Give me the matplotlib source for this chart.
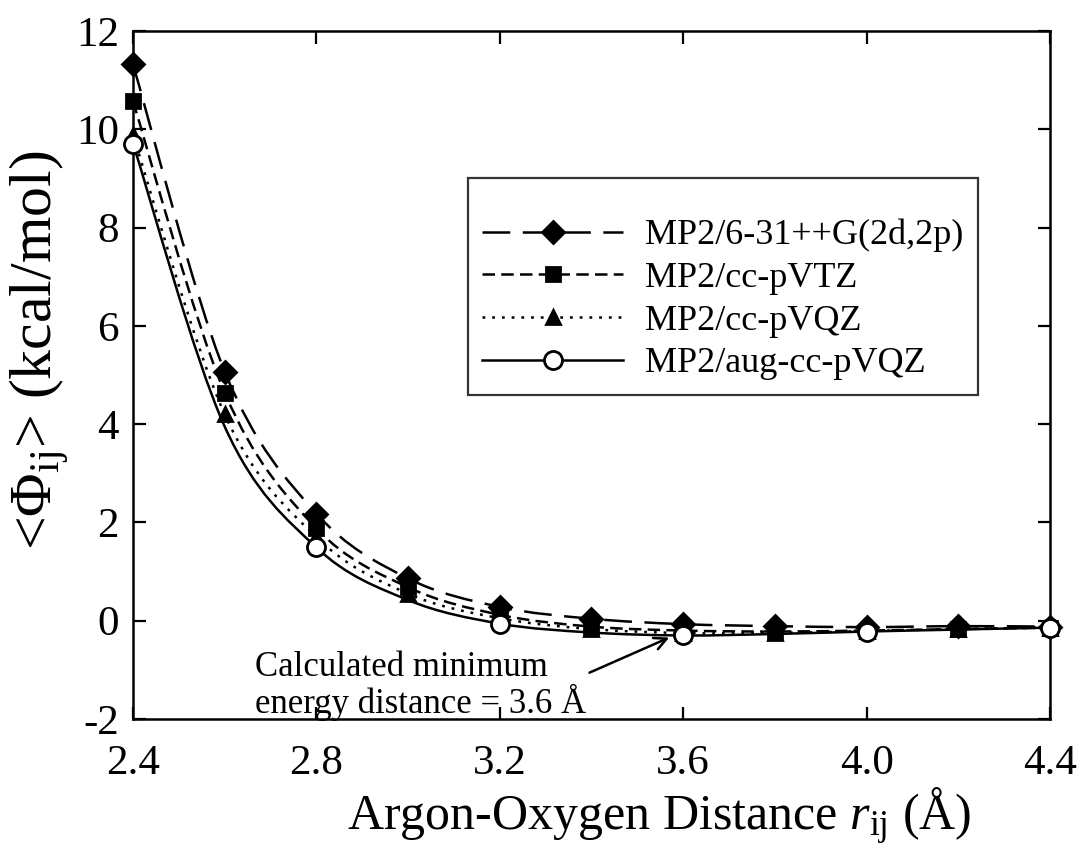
import numpy as np
import matplotlib
matplotlib.use('Agg')
import matplotlib.pyplot as plt
from matplotlib.path import Path
from matplotlib.patches import PathPatch
from matplotlib.lines import Line2D

# values
r = [2.4, 2.6, 2.8, 3.0, 3.2, 3.4, 3.6, 3.8, 4.0, 4.2, 4.4]
mp2_631g = [11.32, 5.07, 2.18, 0.86, 0.28, 0.04, -0.07, -0.11, -0.13, -0.11, -0.12]
mp2_vtz = [10.57, 4.64, 1.88, 0.68, 0.12, -0.12, -0.20, -0.22, -0.20, -0.17, -0.14]
mp2_vqz = [9.88, 4.20, 1.70, 0.55, 0.05, -0.17, -0.25, -0.25, -0.21, -0.17, -0.14]
mp2_aug = [9.71, 3.95, 1.49, 0.42, -0.06, -0.24, -0.30, -0.27, -0.22, -0.18, -0.14]

labels = ['MP2/6-31++G(2d,2p)', 'MP2/cc-pVTZ', 'MP2/cc-pVQZ', 'MP2/aug-cc-pVQZ']
xticks = [2.4, 2.8, 3.2, 3.6, 4.0, 4.4]
yticks = [-2, 0, 2, 4, 6, 8, 10, 12]

plt.rcParams['font.family'] = ['Liberation Serif', 'DejaVu Serif']
plt.rcParams['mathtext.fontset'] = 'custom'
plt.rcParams['mathtext.rm'] = 'Liberation Serif'
plt.rcParams['mathtext.it'] = 'Liberation Serif:italic'
plt.rcParams['axes.unicode_minus'] = False
plt.rcParams['lines.scale_dashes'] = False


def smooth_path(xs, ys):
    # Catmull-Rom style bezier through the data points
    pts = np.column_stack([xs, ys])
    n = len(pts)
    verts = [pts[0]]
    codes = [Path.MOVETO]
    for i in range(n - 1):
        p0 = pts[max(i - 1, 0)]
        p1 = pts[i]
        p2 = pts[i + 1]
        p3 = pts[min(i + 2, n - 1)]
        verts += [p1 + (p2 - p0) / 6, p2 - (p3 - p1) / 6, p2]
        codes += [Path.CURVE4] * 3
    return Path(verts, codes)


fig = plt.figure(figsize=(10.78, 8.49), dpi=100)
ax = fig.add_axes([133 / 1078, 1 - 719 / 849, 917 / 1078, 688 / 849])

lw = 1.8
styles = [
    dict(ls=(0, (20, 9)), marker='D', ms=11, mfc='black'),
    dict(ls=(0, (9, 4.5)), marker='s', ms=9.5, mfc='black'),
    dict(ls=(0, (2, 5)), marker='^', ms=10.5, mfc='black'),
    dict(ls='-', marker='o', ms=13, mfc='white'),
]
series = [mp2_631g, mp2_vtz, mp2_vqz, mp2_aug]
every = [1, 1, 1, 2]

handles = []
for k, (ys, st) in enumerate(zip(series, styles)):
    patch = PathPatch(smooth_path(r, ys), fill=False, edgecolor='black',
                      linewidth=lw, linestyle=st['ls'], capstyle='butt', zorder=2)
    ax.add_patch(patch)
    ax.plot(r, ys, linestyle='none', marker=st['marker'], ms=st['ms'],
            mfc=st['mfc'], mec='black', mew=2, markevery=every[k],
            clip_on=False, zorder=3 + k)
    handles.append(Line2D([], [], color='black', lw=lw, linestyle=st['ls'],
                          marker=st['marker'], ms=st['ms'], mfc=st['mfc'],
                          mec='black', mew=2))

ax.set_xlim(2.4, 4.4)
ax.set_ylim(-2, 12)
ax.set_xticks(xticks)
ax.set_xticklabels([f'{v:.1f}' for v in xticks])
ax.set_yticks(yticks)
ax.set_yticklabels([str(v) for v in yticks])
ax.tick_params(direction='in', length=9, width=1.6, top=True, right=True,
               labelsize=31)
ax.tick_params(axis='x', pad=18)
ax.tick_params(axis='y', pad=10)
for s in ax.spines.values():
    s.set_linewidth(1.8)

ax.set_xlabel(r'Argon-Oxygen Distance $r_{\rm ij}$ (Å)', fontsize=36,
              ha='center', va='center')
ax.xaxis.set_label_coords(0.574, -0.142)
ax.set_ylabel(r'<$\Phi_{\rm ij}$> (kcal/mol)', fontsize=43,
              ha='center', va='center')
ax.yaxis.set_label_coords(-0.102, 0.536)

leg = ax.legend(handles, labels, loc='upper left',
                bbox_to_anchor=(468 / 1078, 1 - 178 / 849),
                bbox_transform=fig.transFigure, borderaxespad=0,
                fontsize=26, frameon=True, fancybox=False,
                handlelength=3.9, handletextpad=0.6, labelspacing=0.26,
                borderpad=0.4, numpoints=1, title=' ', title_fontsize=14)
leg.get_frame().set_edgecolor('black')
leg.get_frame().set_linewidth(1.6)

ax.text(2.665, -0.62, 'Calculated minimum\nenergy distance = 3.6 Å',
        fontsize=25, ha='left', va='top', linespacing=1.0)
ax.annotate('', xy=(3.575, -0.32), xytext=(3.39, -1.08),
            arrowprops=dict(arrowstyle='->', color='black', lw=1.8,
                            mutation_scale=22))

fig.savefig('out.png', dpi=100)
